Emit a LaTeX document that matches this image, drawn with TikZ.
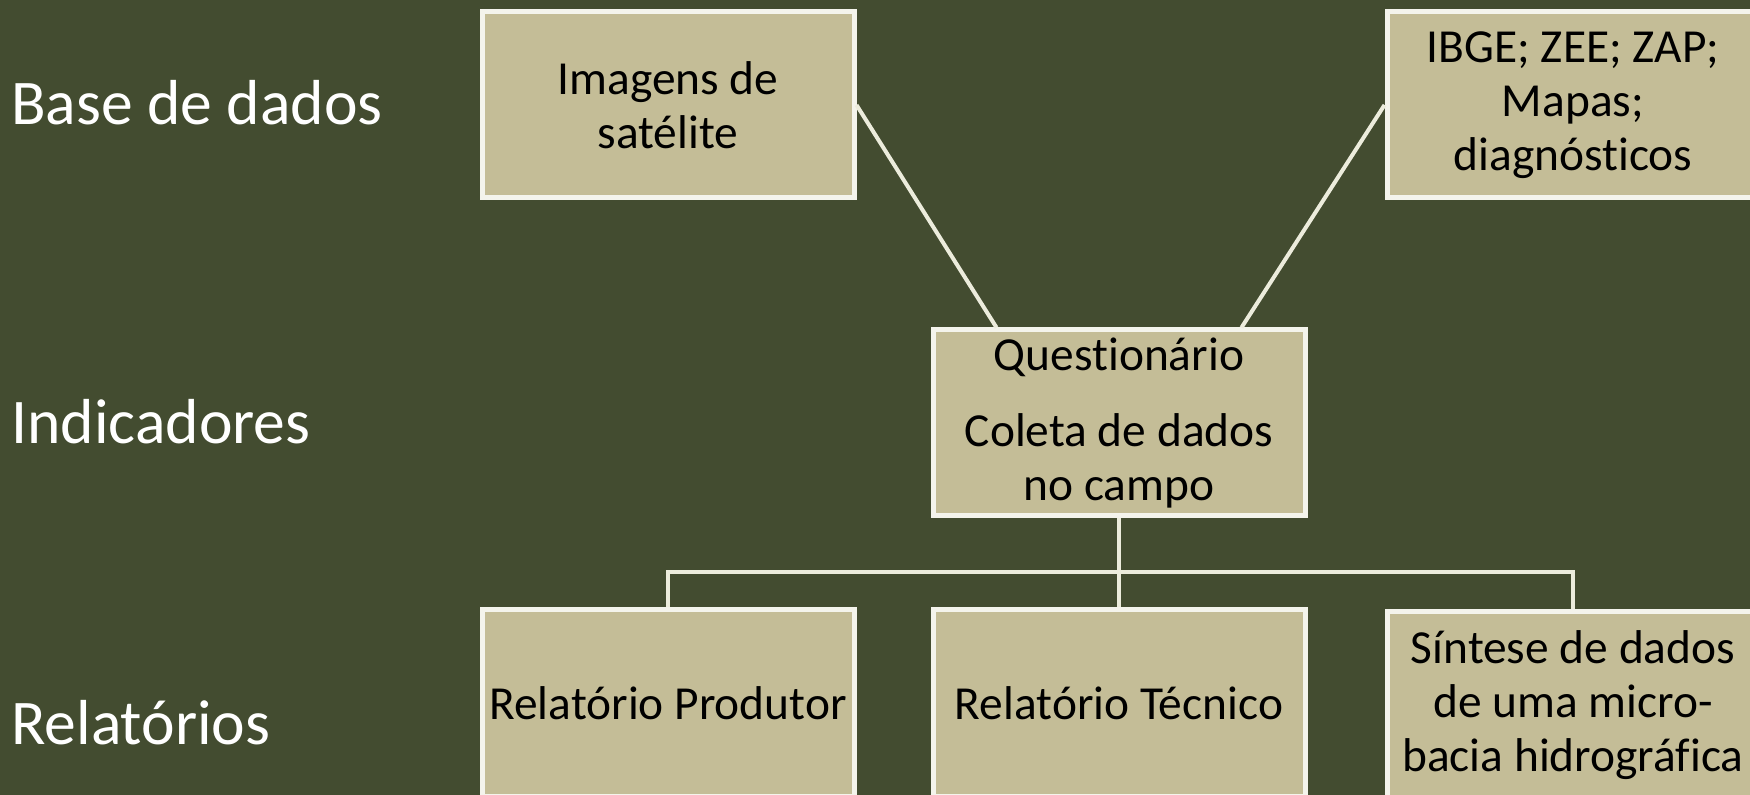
\documentclass[tikz,border=0pt]{standalone}
\usepackage{fontspec}
\setmainfont{Carlito}[Ligatures={NoCommon,NoContextual}]
\usetikzlibrary{calc}
\definecolor{olivebg}{HTML}{434C30}
\definecolor{boxfill}{HTML}{C4BD97}
\definecolor{boxline}{HTML}{F4F4EC}
\definecolor{linkline}{HTML}{ECECDC}

\begin{document}
\begin{tikzpicture}[x=0.5pt, y=-0.5pt,
    box/.style={draw=boxline, fill=boxfill, line width=2.5pt,
        minimum width=186pt, minimum height=93pt, inner sep=0pt,
        align=center, font=\fontsize{23.7}{27}\selectfont},
    rowname/.style={anchor=west, text=white, inner sep=0pt,
        font=\fontsize{31.8}{38}\selectfont},
    link/.style={draw=linkline, line width=2pt}]
            \clip (0,0) rectangle (1750,795);
            \fill[olivebg] (0,0) rectangle (1750,795);

            % row names
            \node[rowname] (base) at (11,103) {Base de dados};
            \node[rowname] (ind)  at (11,422) {Indicadores};
            \node[rowname] (rel)  at (11,723) {Relatórios};

            % connectors first, boxes drawn over them
            \coordinate (fork) at (1119,572);
            \coordinate (img)  at (668,105);
            \coordinate (ibge) at (1573,105);

            \node[box] (quest) at (1119,423) {Questionário\\[11pt]Coleta de dados\\no campo};
            \node[box] (prod)  at (668,703)  {Relatório Produtor};
            \node[box] (tec)   at (1119,703) {Relatório Técnico};
            \node[box] (sint)  at (1573,705) {Síntese de dados\\de uma micro-\\bacia hidrográfica};

            \node[box] (img)  at (img)  {Imagens de\\satélite};
            \node[box] (ibge) at (ibge) {IBGE; ZEE; ZAP;\\Mapas;\\diagnósticos};

            \draw[link] (img.east) -- ($(quest.north west)!0.175!(quest.north east)$);
            \draw[link] (ibge.west) -- ($(quest.north west)!0.825!(quest.north east)$);
            \draw[link] (quest.south) -- (tec.north);
            \draw[link] (prod.north) |- (fork) -| (sint.north);
        \end{tikzpicture}
\end{document}
